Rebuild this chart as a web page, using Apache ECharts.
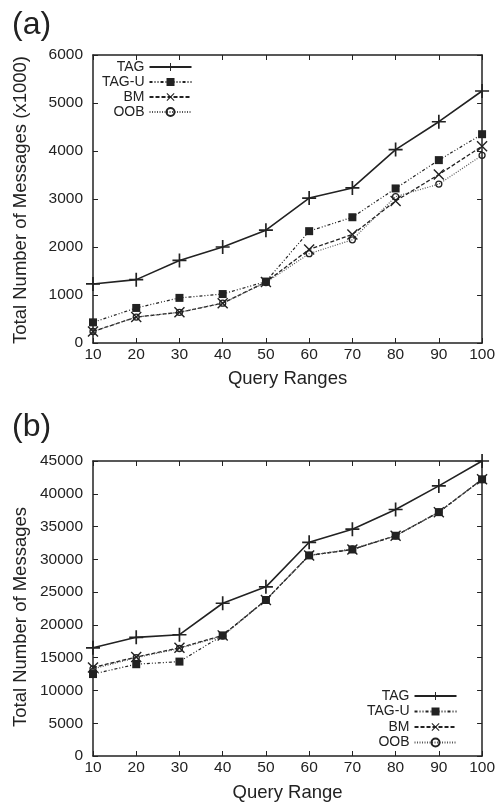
<!DOCTYPE html>
<html><head><meta charset="utf-8">
<script src="https://cdn.jsdelivr.net/npm/echarts@6/dist/echarts.min.js"></script>
<style>html,body{margin:0;padding:0;background:#fff}#c{width:498px;height:809px}</style>
</head><body><div id="c"></div>
<script>
const queryRanges = [10, 20, 30, 40, 50, 60, 70, 80, 90, 100];
const seriesNames = ['TAG', 'TAG-U', 'BM', 'OOB'];
// (a) Total Number of Messages (x1000)
const aTAG  = [1230, 1320, 1720, 2000, 2350, 3020, 3230, 4030, 4610, 5250];
const aTAGU = [430, 730, 940, 1020, 1280, 2330, 2620, 3220, 3810, 4350];
const aBM   = [240, 540, 640, 830, 1270, 1950, 2260, 2960, 3510, 4100];
const aOOB  = [240, 540, 640, 830, 1260, 1860, 2150, 3050, 3310, 3910];
// (b) Total Number of Messages
const bTAG  = [16500, 18100, 18500, 23300, 25800, 32600, 34600, 37600, 41200, 45000];
const bTAGU = [12500, 14000, 14400, 18400, 23800, 30600, 31500, 33600, 37200, 42200];
const bBM   = [13500, 15100, 16500, 18400, 23800, 30600, 31500, 33600, 37200, 42200];
const bOOB  = [13300, 15000, 16400, 18300, 23800, 30600, 31600, 33600, 37200, 42200];
const yTicksA = [0, 1000, 2000, 3000, 4000, 5000, 6000];
const yTicksB = [0, 5000, 10000, 15000, 20000, 25000, 30000, 35000, 40000, 45000];

const FONT = '"Liberation Sans", Arial, Helvetica, sans-serif';
const INK = '#222';
const pair = arr => arr.map((v, i) => [queryRanges[i], v]);

const styles = {
  'TAG':   {symbol: 'path://M0,4.4H10V5.6H0ZM4.4,0H5.6V10H4.4Z', symbolSize: 14, line: {type: 'solid', width: 1.6, color: INK}},
  'TAG-U': {symbol: 'rect', symbolSize: 8, line: {type: [3, 2, 1, 2, 1, 2], width: 1.2, color: INK}},
  'BM':    {symbol: 'path://M0.9,0L5,4.1L9.1,0L10,0.9L5.9,5L10,9.1L9.1,10L5,5.9L0.9,10L0,9.1L4.1,5L0,0.9Z', symbolSize: 11, line: {type: [4, 2], width: 1.3, color: INK}},
  'OOB':   {symbol: 'circle', symbolSize: 6, line: {type: [1, 1.5], width: 1.2, color: '#555'}}
};

function mkSeries(name, data, idx) {
  const s = styles[name];
  const isCircle = s.symbol === 'circle';
  return {
    type: 'line', name: name, xAxisIndex: idx, yAxisIndex: idx,
    data: pair(data), symbol: s.symbol, symbolSize: s.symbolSize,
    lineStyle: s.line,
    itemStyle: isCircle ? {color: 'rgba(255,255,255,0)', borderColor: INK, borderWidth: 1.3} : {color: INK},
    clip: false, animation: false, z: 3
  };
}

function xAx(grid, pos, show) {
  return {
    type: 'value', gridIndex: grid, position: pos, min: 10, max: 100, interval: 10,
    axisLine: {show: true, onZero: false, lineStyle: {color: INK, width: 1.5}},
    axisTick: {show: true, inside: true, length: 5, lineStyle: {color: INK, width: 1}},
    axisLabel: {show: show, margin: 4, color: INK, fontSize: 15.5, fontFamily: FONT, formatter: v => String(v)},
    splitLine: {show: false}
  };
}
function yAx(grid, pos, show, max, interval) {
  return {
    type: 'value', gridIndex: grid, position: pos, min: 0, max: max, interval: interval,
    axisLine: {show: true, onZero: false, lineStyle: {color: INK, width: 1.5}},
    axisTick: {show: true, inside: true, length: 5, lineStyle: {color: INK, width: 1}},
    axisLabel: {show: show, margin: 10, color: INK, fontSize: 15.5, fontFamily: FONT, formatter: v => String(v)},
    splitLine: {show: false}
  };
}

const xA = xAx(0, 'bottom', true);
xA.name = 'Query Ranges'; xA.nameLocation = 'middle'; xA.nameGap = 26;
xA.nameTextStyle = {fontSize: 18.5, fontFamily: FONT, color: INK};
const xB = xAx(1, 'bottom', true);
xB.name = 'Query Range'; xB.nameLocation = 'middle'; xB.nameGap = 27;
xB.nameTextStyle = {fontSize: 18.5, fontFamily: FONT, color: INK};

const legendCommon = {
  orient: 'vertical', align: 'right', itemWidth: 42, itemHeight: 10, padding: 0,
  selectedMode: false,
  textStyle: {fontSize: 14, fontFamily: FONT, color: INK, width: 50, align: 'right'}
};

const option = {
  backgroundColor: '#fff',
  animation: false,
  grid: [
    {left: 93, right: 15, top: 55, height: 288},
    {left: 93, right: 15, top: 461, height: 295}
  ],
  xAxis: [xA, xAx(0, 'top', false), xB, xAx(1, 'top', false)],
  yAxis: [
    yAx(0, 'left', true, 6000, 1000), yAx(0, 'right', false, 6000, 1000),
    yAx(1, 'left', true, 45000, 5000), yAx(1, 'right', false, 45000, 5000)
  ],
  legend: [
    Object.assign({}, legendCommon, {left: 102, top: 60, itemGap: 1, data: seriesNames}),
    Object.assign({}, legendCommon, {left: 367, top: 689, itemGap: 1.5, data: seriesNames})
  ],
  graphic: [
    {type: 'text', x: 12, y: 25, style: {text: '(a)', fontSize: 32, fontFamily: FONT, fill: INK, textVerticalAlign: 'middle'}},
    {type: 'text', x: 12, y: 427, style: {text: '(b)', fontSize: 32, fontFamily: FONT, fill: INK, textVerticalAlign: 'middle'}},
    {type: 'text', x: 21, y: 200, rotation: Math.PI / 2, style: {text: 'Total Number of Messages (x1000)', fontSize: 18.5, fontFamily: FONT, fill: INK, textAlign: 'center', textVerticalAlign: 'middle'}},
    {type: 'text', x: 21, y: 617, rotation: Math.PI / 2, style: {text: 'Total Number of Messages', fontSize: 18.5, fontFamily: FONT, fill: INK, textAlign: 'center', textVerticalAlign: 'middle'}}
  ],
  series: [
    mkSeries('TAG', aTAG, 0), mkSeries('TAG-U', aTAGU, 0), mkSeries('BM', aBM, 0), mkSeries('OOB', aOOB, 0),
    mkSeries('TAG', bTAG, 2), mkSeries('TAG-U', bTAGU, 2), mkSeries('BM', bBM, 2), mkSeries('OOB', bOOB, 2)
  ]
};

const chart = echarts.init(document.getElementById('c'), null, {renderer: 'canvas'});
chart.setOption(option);
</script>
</body></html>
